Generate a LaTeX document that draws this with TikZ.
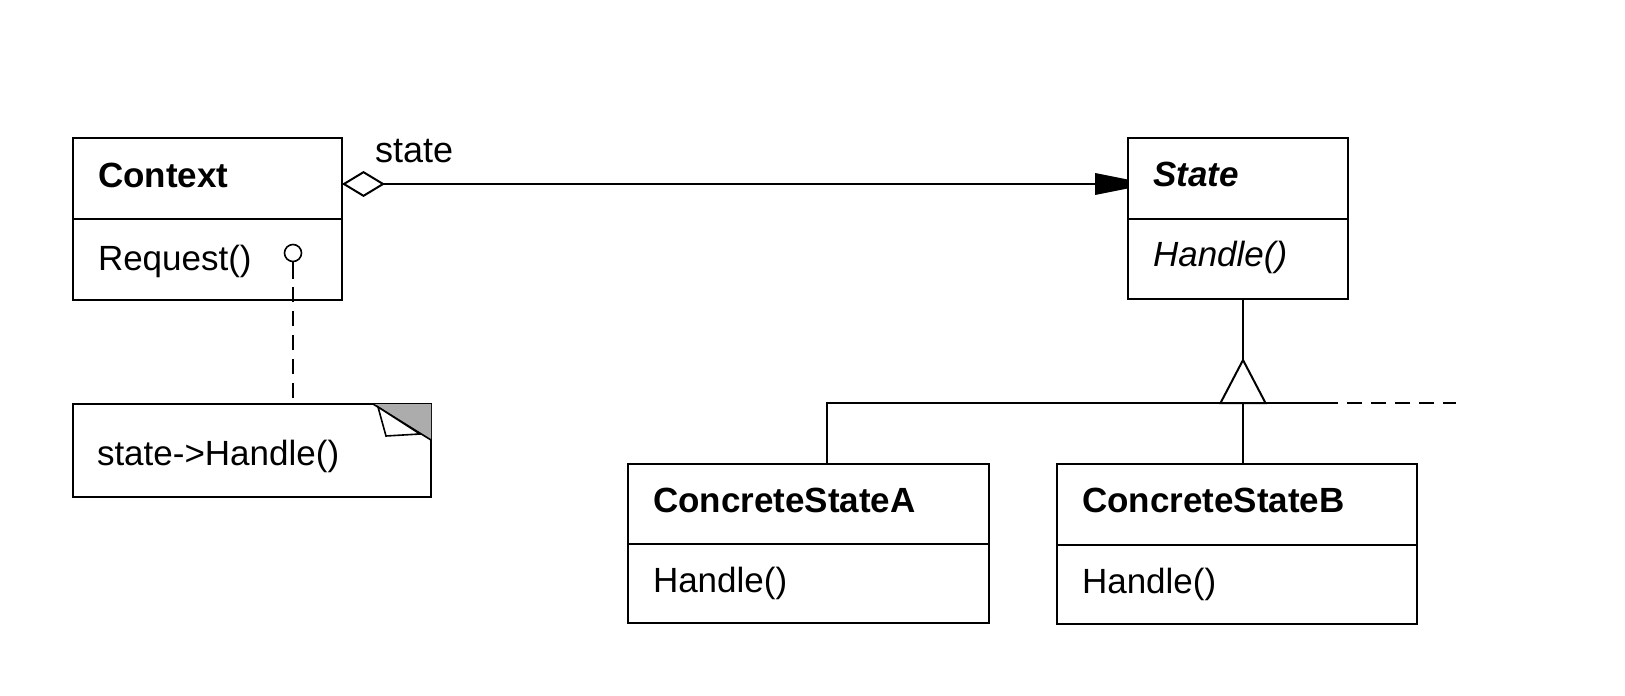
\documentclass[tikz,border=0pt]{standalone}
\usepackage{fontspec}
\setmainfont{Liberation Sans}
\usetikzlibrary{arrows.meta,calc}
\pgfdeclarearrow{
  name = Trap,
  setup code = {
    \pgfarrowssettipend{0pt}
    \pgfarrowssetbackend{-16.5pt}
    \pgfarrowssetlineend{-15pt}
    \pgfarrowssetvisualbackend{-16.5pt}
    \pgfarrowshullpoint{0pt}{2pt}
    \pgfarrowshullpoint{0pt}{-2pt}
    \pgfarrowshullpoint{-16.5pt}{5.5pt}
    \pgfarrowshullpoint{-16.5pt}{-5.5pt}
  },
  drawing code = {
    \pgfpathmoveto{\pgfqpoint{0pt}{2.2pt}}
    \pgfpathlineto{\pgfqpoint{-16.5pt}{5.5pt}}
    \pgfpathlineto{\pgfqpoint{-16.5pt}{-5.5pt}}
    \pgfpathlineto{\pgfqpoint{0pt}{-2.2pt}}
    \pgfpathclose
    \pgfusepathqfill
  }
}
\begin{document}
\begin{tikzpicture}[x=0.5pt,y=-0.5pt,line width=1pt,
  cls/.style={draw,rectangle,inner sep=0pt,outer sep=0pt},
  lbl/.style={anchor=base west,inner sep=0pt,outer sep=0pt,font=\fontsize{17.5pt}{21pt}\selectfont},
  bold/.style={lbl,font=\fontsize{17.5pt}{21pt}\selectfont\bfseries},
  dashline/.style={dash pattern=on 7.5pt off 4.5pt}]
\useasboundingbox (0,0) rectangle (1625,695);

% class boxes
\node[cls,minimum width=134.5pt,minimum height=81pt] (ctx) at (207.5,219) {};
\draw (ctx.west) -- (ctx.east);
\node[cls,minimum width=110pt,minimum height=80.5pt] (state) at (1238,218.5) {};
\draw (state.west |- 0,219) -- (state.east |- 0,219);
\node[cls,minimum width=180.5pt,minimum height=79.5pt] (csa) at (808.5,543.5) {};
\draw (csa.west |- 0,544) -- (csa.east |- 0,544);
\node[cls,minimum width=180pt,minimum height=80pt] (csb) at (1237,544) {};
\draw (csb.west |- 0,545) -- (csb.east |- 0,545);

% texts
\node[bold] (ctxname) at (98,188) {Context};
\node[lbl] (ctxop) at (98,270) {Request()};
\node[bold,font=\fontsize{17.5pt}{21pt}\selectfont\bfseries\itshape] (statename) at (1153,187) {State};
\node[lbl,font=\fontsize{17.5pt}{21pt}\selectfont\itshape] (stateop) at (1153,266) {Handle()};
\node[bold] (csaname) at (653,512) {ConcreteStateA};
\node[lbl] (csaop) at (653,592) {Handle()};
\node[bold] (csbname) at (1082,512) {ConcreteStateB};
\node[lbl] (csbop) at (1082,593) {Handle()};

% note
\node[cls,minimum width=179pt,minimum height=46.5pt] (note) at (252,450.5) {};
\fill[gray!65] ($(note.north east)+(-58,0)$) -- (note.north east) -- ($(note.north east)+(0,36)$) -- cycle;
\draw[line width=0.8pt] ($(note.north east)+(-58,0)$) -- ($(note.north east)+(0,36)$);
\draw[line width=0.8pt,fill=white] ($(note.north east)+(-53,3)$) -- ($(note.north east)+(-45,32)$) -- ($(note.north east)+(-11,30)$) -- cycle;
\node[lbl] (notetext) at (97,465) {state->Handle()};

% lollipop to note
\node[draw,circle,minimum size=8.5pt,inner sep=0pt,line width=0.8pt] (lol) at (293,253) {};
\draw (lol.south) -- ++(0,17);
\draw[dashline] ($(lol.south)+(0,25)$) -- (lol.south |- note.north);

% aggregation
\coordinate (aggy) at (0,184);
\draw[{Diamond[open,length=21.5pt,width=13pt]}-{Trap}] (ctx.east |- aggy) -- (state.west |- aggy);
\node[lbl,font=\fontsize{18pt}{21pt}\selectfont] (statelbl) at (375,163) {state};

% generalization
\coordinate (gen) at (1243,403);
\coordinate (ja) at (827,403);
\coordinate (hend) at (1338,403);
\coordinate (dend) at (1456,403);
\draw (state.south -| gen) -- ($(gen)+(0,-43)$);
\draw (csa.north -| ja) -- (ja) -- (hend);
\draw[dashline] ($(hend)+(9,0)$) -- (dend);
\draw (gen) -- (csb.north -| gen);
\draw[fill=white] ($(gen)+(0,-43)$) -- ($(gen)+(22.5,0)$) -- ($(gen)+(-22.5,0)$) -- cycle;
\end{tikzpicture}
\end{document}
